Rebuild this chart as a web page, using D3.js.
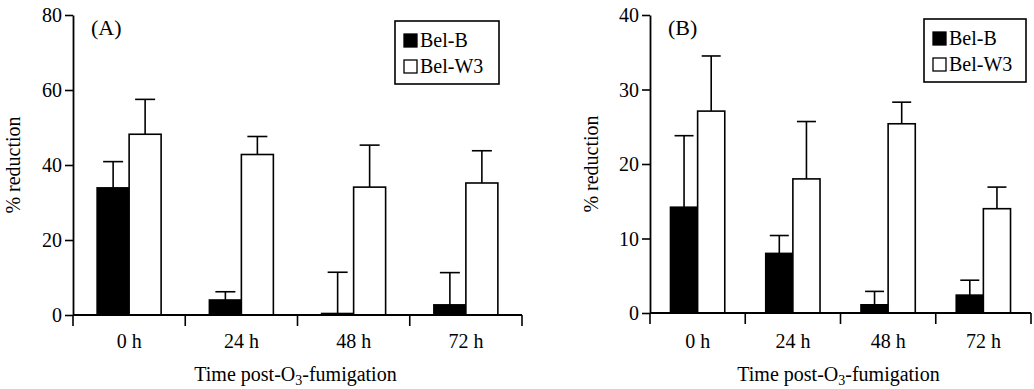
<!DOCTYPE html>
<html lang="en">
<head>
  <meta charset="utf-8">
  <script src="https://d3js.org/d3.v7.min.js"></script>
  <style>
    body { margin: 0; background: #fff; }
  </style>
</head>
<body>
<script>
  // data
  var times = ["0 h", "24 h", "48 h", "72 h"];
  var series = ["Bel-B", "Bel-W3"];

  var aBelB = [33.9, 4.0, 0.4, 2.7];
  var aBelBErr = [40.9, 6.2, 11.4, 11.3];
  var aBelW3 = [48.2, 42.8, 34.1, 35.2];
  var aBelW3Err = [57.5, 47.6, 45.3, 43.8];
  var aTicks = [0, 20, 40, 60, 80];

  var bBelB = [14.2, 8.0, 1.1, 2.4];
  var bBelBErr = [23.8, 10.4, 2.9, 4.4];
  var bBelW3 = [27.1, 18.0, 25.4, 14.0];
  var bBelW3Err = [34.5, 25.7, 28.3, 16.9];
  var bTicks = [0, 10, 20, 30, 40];

  var serif = "'Liberation Serif', 'Times New Roman', 'DejaVu Serif', serif";
  var fs = 20;

  var svg = d3.select("body").append("svg")
    .attr("width", 1034).attr("height", 389)
    .style("font-family", serif);

  function drawPanel(p) {
    var g = svg.append("g");
    var x = d3.scaleBand().domain(times).range([p.x0, p.x1]).paddingInner(0).paddingOuter(0);
    var y = d3.scaleLinear().domain([0, p.ymax]).range([p.yBottom, p.yTop]);
    var barW = x.bandwidth() * p.barFrac / 2;

    var rows = times.map(function (t, i) {
      return [
        { t: t, k: 0, v: p.b[i], e: p.be[i] },
        { t: t, k: 1, v: p.w[i], e: p.we[i] }
      ];
    }).flat();

    function bx(d) {
      return x(d.t) + x.bandwidth() / 2 - barW + d.k * barW;
    }

    // error bars (upward only)
    g.selectAll("line.err").data(rows).enter().append("line")
      .attr("x1", function (d) { return bx(d) + barW / 2; })
      .attr("x2", function (d) { return bx(d) + barW / 2; })
      .attr("y1", function (d) { return y(d.v); })
      .attr("y2", function (d) { return y(d.e); })
      .attr("stroke", "#000").attr("stroke-width", 1.6);
    g.selectAll("line.cap").data(rows).enter().append("line")
      .attr("x1", function (d) { return bx(d) + barW / 2 - p.cap / 2; })
      .attr("x2", function (d) { return bx(d) + barW / 2 + p.cap / 2; })
      .attr("y1", function (d) { return y(d.e); })
      .attr("y2", function (d) { return y(d.e); })
      .attr("stroke", "#000").attr("stroke-width", 1.6);

    g.selectAll("rect.bar").data(rows).enter().append("rect")
      .attr("x", bx)
      .attr("y", function (d) { return y(d.v); })
      .attr("width", barW)
      .attr("height", function (d) { return y(0) - y(d.v); })
      .attr("fill", function (d) { return d.k === 0 ? "#000" : "#fff"; })
      .attr("stroke", "#000").attr("stroke-width", 1.6);

    // y axis
    var ya = g.append("g").attr("transform", "translate(" + p.x0 + ",0)")
      .call(d3.axisLeft(y).tickValues(p.ticks).tickSize(8).tickPadding(3).tickSizeOuter(0));
    ya.attr("font-family", serif).attr("font-size", fs);
    ya.selectAll(".tick text").attr("fill", "#000").attr("dy", "0.34em");
    ya.select(".domain").attr("stroke-width", 1.8);
    ya.selectAll(".tick line").attr("stroke-width", 1.6);

    // x axis: ticks at category boundaries, pointing down
    var bounds = times.map(function (t) { return x(t); }).concat([p.x1]);
    g.append("line").attr("x1", p.x0).attr("x2", p.x1)
      .attr("y1", y(0)).attr("y2", y(0)).attr("stroke", "#000").attr("stroke-width", 1.8);
    g.selectAll("line.xt").data(bounds).enter().append("line")
      .attr("x1", function (d) { return d; }).attr("x2", function (d) { return d; })
      .attr("y1", y(0)).attr("y2", y(0) + 11)
      .attr("stroke", "#000").attr("stroke-width", 1.6);
    g.selectAll("text.xl").data(times).enter().append("text")
      .attr("x", function (d) { return x(d) + x.bandwidth() / 2; })
      .attr("y", 348).attr("text-anchor", "middle").attr("font-size", fs)
      .text(function (d) { return d; });

    // axis titles
    var xt = g.append("text").attr("x", (p.x0 + p.x1) / 2 - 2).attr("y", 381)
      .attr("text-anchor", "middle").attr("font-size", fs);
    xt.append("tspan").text("Time post-O");
    xt.append("tspan").attr("font-size", 14).attr("dy", 4).text("3");
    xt.append("tspan").attr("dy", -4).text("-fumigation");

    g.append("text")
      .attr("transform", "translate(" + p.ylabX + "," + (p.yTop + p.yBottom) / 2 + ") rotate(-90)")
      .attr("text-anchor", "middle").attr("font-size", fs).text("% reduction");

    g.append("text").attr("x", p.x0 + 18).attr("y", 35)
      .attr("font-size", 22).text(p.label);

    // legend
    var lg = g.append("g").attr("transform", "translate(" + p.legX + "," + p.legY + ")");
    lg.append("rect").attr("width", p.legW).attr("height", 63)
      .attr("fill", "#fff").attr("stroke", "#000").attr("stroke-width", 1.6);
    series.forEach(function (s, i) {
      lg.append("rect").attr("x", 9).attr("y", 13 + i * 26).attr("width", 13).attr("height", 13)
        .attr("fill", i === 0 ? "#000" : "#fff").attr("stroke", "#000").attr("stroke-width", 1.3);
      lg.append("text").attr("x", 25).attr("y", 26 + i * 26).attr("font-size", fs).text(s);
    });
  }

  drawPanel({
    x0: 73, x1: 522, yTop: 15, yBottom: 315, ymax: 80, ticks: aTicks,
    b: aBelB, be: aBelBErr, w: aBelW3, we: aBelW3Err,
    barFrac: 0.57, cap: 20, label: "(A)", ylabX: 20,
    legX: 395, legY: 21, legW: 104
  });

  drawPanel({
    x0: 650, x1: 1031, yTop: 15, yBottom: 313, ymax: 40, ticks: bTicks,
    b: bBelB, be: bBelBErr, w: bBelW3, we: bBelW3Err,
    barFrac: 0.57, cap: 19, label: "(B)", ylabX: 598,
    legX: 924, legY: 19, legW: 102
  });
</script>
</body>
</html>
